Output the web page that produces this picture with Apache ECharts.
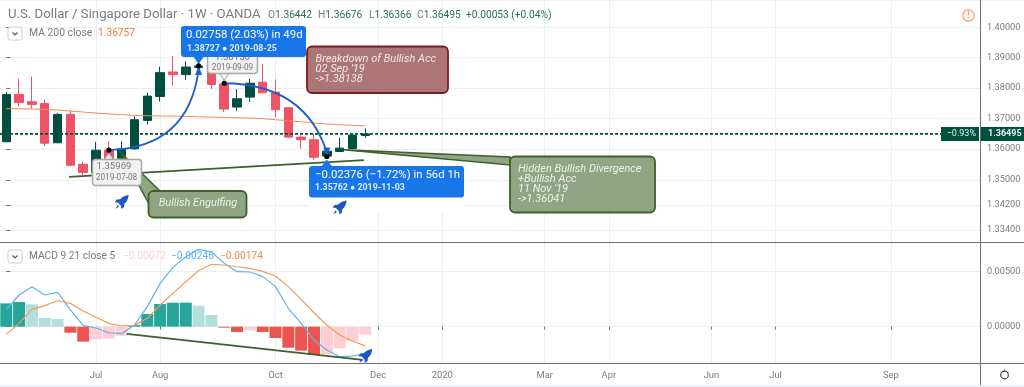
<!DOCTYPE html>
<html><head><meta charset="utf-8">
<script src="https://cdn.jsdelivr.net/npm/echarts@6/dist/echarts.min.js"></script>
<style>html,body{margin:0;padding:0;background:#fff}#c{width:1024px;height:387px}</style>
</head><body><div id="c"></div>
<script>
// [open, close, low, high], one candle per week
const candles = [
[1.36239,1.37787,1.36239,1.37863],[1.37787,1.37525,1.37394,1.38299],[1.37547,1.37460,1.37318,1.38375],
[1.37492,1.36195,1.36097,1.37612],[1.36206,1.37133,1.36206,1.37176],[1.37133,1.35476,1.35443,1.37263],
[1.35508,1.35247,1.35160,1.35585],[1.35247,1.35966,1.35247,1.36228],[1.35966,1.35628,1.35600,1.36260],
[1.35705,1.36010,1.35628,1.36260],[1.36010,1.36958,1.35977,1.37067],[1.36936,1.37732,1.36806,1.37841],
[1.37721,1.38506,1.37558,1.38702],[1.38528,1.38441,1.38081,1.39062],[1.38441,1.38691,1.38266,1.38877],
[1.38680,1.38724,1.38626,1.38844],[1.38724,1.38114,1.37961,1.38844],[1.38135,1.37307,1.37209,1.38244],
[1.37372,1.37645,1.37242,1.37961],[1.37699,1.38157,1.37536,1.38299],[1.38190,1.37841,1.37841,1.38789],
[1.37863,1.37285,1.37045,1.38277],[1.37351,1.36391,1.36370,1.37351],[1.36391,1.36304,1.36010,1.36446],
[1.36304,1.35737,1.35650,1.36500],[1.35775,1.35934,1.35762,1.35950],[1.35923,1.36032,1.35923,1.36370],
[1.36021,1.36457,1.35999,1.36468],[1.36442,1.36495,1.36366,1.36676]];
const ma200 = [1.37318,1.37318,1.37307,1.37296,1.37274,1.37242,1.37209,1.37176,1.37144,1.37122,1.37100,1.37089,1.37078,1.37078,1.37067,1.37056,1.37045,1.37034,1.37024,1.37013,1.36991,1.36958,1.36925,1.36893,1.36849,1.36817,1.36795,1.36773,1.36757];
const macdHist = [.00212,.00224,.00203,.00079,.00070,-.00055,-.00136,-.00115,-.00109,-.00082,.00015,.00115,.00206,.00218,.00218,.00191,.00106,-.00009,-.00048,-.00033,-.00048,-.00103,-.00191,-.00218,-.00258,-.00248,-.00197,-.00130,-.00072];
const macdLine = [.00158,.00288,.00364,.00288,.00312,.00152,.00012,-.00012,-.00055,-.00064,.00015,.00182,.00394,.00539,.00636,.00703,.00679,.00576,.00500,.00497,.00455,.00364,.00167,.00030,-.00121,-.00212,-.00273,-.00267,-.00246];
const signalLine = [-.00070,.00030,.00158,.00191,.00236,.00212,.00142,.00085,.00030,.00006,.00012,.00076,.00197,.00303,.00409,.00509,.00567,.00561,.00545,.00530,.00503,.00461,.00364,.00248,.00127,.00015,-.00076,-.00130,-.00174];
const timeTicks = [7,12,21,29,34,42,47,55,60,69];
const timeLabels = ['Jul','Aug','Oct','Dec','2020','Mar','Apr','Jun','Jul','Sep'];
const priceTicks = [1.40,1.39,1.38,1.37,1.36,1.35,1.342,1.334];
const macdTicks = [0.005,0];
const lastPrice = 1.36495;
const supportLine = [[4.9,1.3510],[27.9,1.35646]];
const macdTrend = [[9.4,-.00066],[27.8,-.00302]];
const rocketsPrice = [[9,1.34293],[26,1.3412]];
const rocketsMacd = [[28,-.00267]];

const FONT = 'Roboto,sans-serif';
const UP='#00503f', DOWN='#ef5366', GRID='#e9f0f5', AXIS='#6f6f6f', TXT='#7b7b7b';
const ROCKET='path://M92 6C70 8 52 18 40 32L20 34L8 50L28 52L46 72L48 92L64 80L66 60C80 48 90 30 92 6ZM24 68L34 78L14 90Z';
const X0=-0.49, X1=75.95;
const idx = a => a.map((v,i)=>[i,v]);

function rect(x,y,w,h,fill,stroke,lw,r,extra){return {type:'rect',shape:{x,y,width:w,height:h,r:r==null?5:r},style:Object.assign({fill,stroke,lineWidth:lw||0},extra||{})};}
function poly(pts,fill,stroke,lw){return {type:'polygon',shape:{points:pts},style:{fill,stroke,lineWidth:lw||0}};}
function txt(x,y,text,font,fill,align){return {type:'text',style:{x,y,text,font:font+' '+FONT,fill,align:align||'left',verticalAlign:'middle'}};}
function dot(p){return {type:'circle',shape:{cx:p[0],cy:p[1],r:2.6},style:{fill:'#000'}};}
function arc(a,c,b){return {type:'bezierCurve',shape:{x1:a[0],y1:a[1],x2:b[0],y2:b[1],cpx1:c[0],cpy1:c[1]},style:{stroke:'#1f5ed0',lineWidth:1.8,fill:null}};}
function head(p,dx,dy){return poly([[p[0],p[1]],[p[0]+dx-3.5,p[1]+dy],[p[0]+dx+3.5,p[1]+dy]],'#1f5ed0');}

function annotations(params,api){
  const c=a=>api.coord(a);
  const a1=c([8,1.35969]), b1=c([15,1.38727]), a2=c([17,1.38156]), b2=c([25,1.35762]);
  const ch=[];
  const gr='#8fa583', grB='#3f5f2c', hid=c([26.3,1.3598]), be=c([9,1.3585]);
  ch.push(poly([[hid[0],hid[1]],[510,157],[510,165]],gr,grB,1.5));
  ch.push(rect(510,156.5,145,56,gr,grB,1.8));
  ['Hidden Bullish Divergence','+Bullish Acc',"11 Nov '19",'->1.36041'].forEach((t,i)=>ch.push(txt(518,169.5+i*10,t,'italic 11px','#eef2ea')));
  ch.push(poly([[be[0],be[1]],[160,191],[148.5,203]],gr,grB,1.5));
  ch.push(rect(148.5,191,98,26.5,gr,grB,1.8));
  ch.push(txt(198,203.5,'Bullish Engulfing','italic 11px','#eef2ea','center'));
  ch.push(rect(307,46.5,141,46.5,'#ad7676','#761f1f',1.8));
  ["Breakdown of Bullish Acc","02 Sep '19","->1.38138"].forEach((t,i)=>ch.push(txt(315.5,59+i*10,t,'italic 11px','#f3e6e6')));
  ch.push(arc(a1,c([14.2,1.36037]),[b1[0],b1[1]+4]));
  ch.push(arc(a2,c([23.3,1.38131]),[b2[0],b2[1]-4]));
  ch.push(head(b1,0,9)); ch.push(head(b2,0,-9));
  ch.push(poly([[a2[0],a2[1]-3],[a2[0]-5,a2[1]-10],[a2[0]+5,a2[1]-10]],'#f1f1f1','#9e9e9e',1));
  ch.push(rect(207.5,50,50,23.5,'#f1f1f1','#a8a8a8',1.5,3));
  ch.push(txt(232.5,58,'1.38156','9.6px','#7b7b7b','center'));
  ch.push(txt(232.5,67.5,'2019-09-09','8.2px','#7b7b7b','center'));
  ch.push(poly([[a1[0],a1[1]+3],[a1[0]-5,a1[1]+10],[a1[0]+5,a1[1]+10]],'#f1f1f1','#9e9e9e',1));
  ch.push(rect(92.5,159.5,49,26,'#f1f1f1','#a8a8a8',1.5,3));
  ch.push(txt(114,166.5,'1.35969','9.6px','#7b7b7b','center'));
  ch.push(txt(116.5,177.5,'2019-07-08','8.2px','#7b7b7b','center'));
  const bl='#1976e8';
  ch.push(rect(181,26,125,31,bl,null,0,3));
  ch.push(poly([[b1[0],b1[1]-2],[b1[0]-5,57],[b1[0]+5,57]],bl));
  ch.push(txt(186,35,'0.02758 (2.03%) in 49d','11.4px','#fff'));
  ch.push(txt(187,48.5,'1.38727 ● 2019-08-25','bold 8.8px','#d9ecff'));
  ch.push(rect(309,197,155,16,'#fff',null,0,0));
  ch.push(rect(309,166,155,31.5,bl,null,0,3));
  ch.push(poly([[b2[0],b2[1]+3],[b2[0]-5,166],[b2[0]+5,166]],bl));
  ch.push(txt(315,175,'\u22120.02376 (\u22121.72%) in 56d 1h','11.4px','#fff'));
  ch.push(txt(315,188,'1.35762 ● 2019-11-03','bold 8.8px','#d9ecff'));
  [a1,b1,a2,b2].forEach(p=>ch.push(dot(p)));
  return {type:'group',children:ch};
}
function priceTags(params,api){
  const y=api.coord([0,lastPrice])[1];
  return {type:'group',children:[
    rect(941,y-7,38,14,UP,null,0,0), txt(976,y,'\u22120.93%','9px','#e6f0ed','right'),
    rect(981,y-7,43,14,UP,null,0,0), txt(988,y,'1.36495','bold 9px','#e6f0ed')
  ]};
}

const xBase = {type:'value',min:X0,max:X1,axisLine:{show:false},
  splitLine:{show:true,lineStyle:{color:GRID,width:1}},
  axisTick:{show:false,customValues:timeTicks},
  axisLabel:{show:false,customValues:timeTicks}};
const yBase = {position:'right',axisLine:{show:false},scale:true,
  splitLine:{show:true,lineStyle:{color:GRID,width:1}},
  axisTick:{show:true,length:4,lineStyle:{color:AXIS}}};

const option = {
  animation:false, backgroundColor:'#fff', textStyle:{fontFamily:FONT},
  grid:[{left:0,top:0,width:980,height:242},{left:0,top:242,width:980,height:121.3}],
  xAxis:[Object.assign({},xBase,{gridIndex:0}),
    Object.assign({},xBase,{gridIndex:1,
      axisTick:{show:true,length:3,lineStyle:{color:AXIS},customValues:timeTicks},
      axisLabel:{show:true,customValues:timeTicks,margin:8,fontSize:9.4,color:TXT,fontFamily:FONT,hideOverlap:false,showMinLabel:true,showMaxLabel:true,
        formatter:v=>timeLabels[timeTicks.indexOf(Math.round(v))]||''}})],
  yAxis:[Object.assign({},yBase,{gridIndex:0,type:'log',logBase:Math.E,min:1.33018,max:1.40929,
      axisTick:{show:true,length:4,lineStyle:{color:AXIS},customValues:priceTicks},
      axisLabel:{customValues:priceTicks,margin:7,fontSize:9.2,color:TXT,fontFamily:FONT,formatter:v=>Number(v).toFixed(5)}}),
    Object.assign({},yBase,{gridIndex:1,type:'value',min:-0.00333,max:0.0077,
      axisTick:{show:true,length:4,lineStyle:{color:AXIS},customValues:macdTicks},
      axisLabel:{customValues:macdTicks,margin:7,fontSize:9.2,color:TXT,fontFamily:FONT,formatter:v=>Number(v).toFixed(5)}})],
  series:[
    {type:'line',name:'last',data:[[X0,lastPrice],[X1,lastPrice]],symbol:'none',z:3,silent:true,
      lineStyle:{color:UP,width:1.6,type:[3,2]}},
    {type:'candlestick',name:'USDSGD',data:candles.map((d,i)=>[i,...d]),encode:{x:0,y:[1,2,3,4]},barWidth:9,z:2,
      itemStyle:{color:UP,color0:DOWN,borderColor:UP,borderColor0:DOWN,borderWidth:1}},
    {type:'line',name:'MA 200',data:idx(ma200),symbol:'none',z:4,lineStyle:{color:'#f58b4e',width:1}},
    {type:'line',name:'support',data:supportLine,symbol:'none',z:4,lineStyle:{color:'#3f5f2c',width:1.8}},
    {type:'scatter',name:'rocketsPrice',data:rocketsPrice,symbol:ROCKET,symbolSize:14,z:9,itemStyle:{color:'#1f55c8',opacity:1}},
    {type:'custom',name:'notes',data:[[0,1.36]],renderItem:annotations,z:8,silent:true},
    {type:'custom',name:'tags',data:[[0,1.36]],renderItem:priceTags,z:9,silent:true},
    {type:'bar',name:'hist',xAxisIndex:1,yAxisIndex:1,barWidth:12,z:2,
      data:macdHist.map((v,i)=>{const p=i?macdHist[i-1]:-1,rising=v>=p;
        return {value:[i,v],itemStyle:{color:v>=0?(rising?'#26a69a':'#b2dfdb'):(rising?'#ffcdd2':'#ef5350')}};})},
    {type:'line',name:'macd',xAxisIndex:1,yAxisIndex:1,data:idx(macdLine),symbol:'none',z:3,lineStyle:{color:'#5ab3f2',width:1.2}},
    {type:'line',name:'signal',xAxisIndex:1,yAxisIndex:1,data:idx(signalLine),symbol:'none',z:3,lineStyle:{color:'#f79a55',width:1.2}},
    {type:'line',name:'macdTrend',xAxisIndex:1,yAxisIndex:1,data:macdTrend,symbol:'none',z:4,lineStyle:{color:'#3f5f2c',width:1.8}},
    {type:'scatter',name:'rocketsMacd',xAxisIndex:1,yAxisIndex:1,data:rocketsMacd,symbol:ROCKET,symbolSize:14,z:5,itemStyle:{color:'#1f55c8',opacity:1}}
  ],
  graphic:[
    {type:'rect',shape:{x:0,y:0,width:1024,height:1},style:{fill:'#eef1f8'},z:20,silent:true},
    {type:'rect',shape:{x:0,y:385,width:1024,height:2},style:{fill:'#eef1f8'},z:20,silent:true},
    {type:'line',shape:{x1:0,y1:242.5,x2:1024,y2:242.5},style:{stroke:AXIS,lineWidth:1},z:20,silent:true},
    {type:'line',shape:{x1:0,y1:363.5,x2:1024,y2:363.5},style:{stroke:AXIS,lineWidth:1},z:20,silent:true},
    {type:'line',shape:{x1:980.5,y1:0,x2:980.5,y2:385},style:{stroke:AXIS,lineWidth:1},z:20,silent:true},
    {type:'text',x:8,y:14.5,z:20,silent:true,style:{text:'U.S. Dollar / Singapore Dollar \u00b7 1W \u00b7 OANDA',font:'13.2px '+FONT,fill:TXT,verticalAlign:'middle'}},
    ...[['O','1.36442',268],['H','1.36676',318],['L','1.36366',369],['C','1.36495',417]].map(t=>(
      {type:'text',x:t[2],y:15,z:20,silent:true,style:{text:'{a|'+t[0]+'}{b|'+t[1]+'}',verticalAlign:'middle',
        rich:{a:{fill:'#75807c',font:'10.2px '+FONT},b:{fill:'#2a6f60',font:'10.2px '+FONT}}}})),
    {type:'text',x:466,y:15,z:20,silent:true,style:{text:'+0.00053 (+0.04%)',font:'10.2px '+FONT,fill:'#2a6f60',verticalAlign:'middle'}},
    {type:'rect',shape:{x:8,y:27,width:14,height:13,r:2},style:{fill:'#fff',stroke:'#c9ced6',lineWidth:1},z:20,silent:true},
    {type:'polyline',shape:{points:[[12.5,32.5],[15,35],[17.5,32.5]]},style:{stroke:'#555',lineWidth:1.2,fill:null},z:20,silent:true},
    {type:'text',x:29,y:33.5,z:20,silent:true,style:{text:'MA 200 close',font:'10.4px '+FONT,fill:TXT,verticalAlign:'middle'}},
    {type:'text',x:98,y:33.5,z:20,silent:true,style:{text:'1.36757',font:'10.2px '+FONT,fill:'#f07f3c',verticalAlign:'middle'}},
    {type:'rect',shape:{x:8,y:250,width:14,height:13,r:2},style:{fill:'#fff',stroke:'#c9ced6',lineWidth:1},z:20,silent:true},
    {type:'polyline',shape:{points:[[12.5,255.5],[15,258],[17.5,255.5]]},style:{stroke:'#555',lineWidth:1.2,fill:null},z:20,silent:true},
    {type:'text',x:29,y:256,z:20,silent:true,style:{text:'MACD 9 21 close 5',font:'10.2px '+FONT,fill:TXT,verticalAlign:'middle'}},
    {type:'text',x:123,y:256,z:20,silent:true,style:{text:'\u22120.00072',font:'10.2px '+FONT,fill:'#ffcdd2',verticalAlign:'middle'}},
    {type:'text',x:171,y:256,z:20,silent:true,style:{text:'\u22120.00246',font:'10.2px '+FONT,fill:'#5ab3f2',verticalAlign:'middle'}},
    {type:'text',x:220,y:256,z:20,silent:true,style:{text:'\u22120.00174',font:'10.2px '+FONT,fill:'#f58b4e',verticalAlign:'middle'}},
    {type:'circle',shape:{cx:968.5,cy:15.5,r:5.7},style:{fill:'#fff',stroke:'#ff9f63',lineWidth:1.2},z:20,silent:true},
    {type:'text',x:968.5,y:15.5,z:21,silent:true,style:{text:'!',font:'bold 9px '+FONT,fill:'#ff9f63',align:'center',verticalAlign:'middle'}},
    {type:'circle',shape:{cx:1004.5,cy:375,r:3.8},style:{fill:'#fff',stroke:'#444',lineWidth:1.2},z:20,silent:true},
    {type:'text',x:1004.5,y:375,z:19,silent:true,style:{text:'\u2736',font:'14px "DejaVu Sans"',fill:'#444',align:'center',verticalAlign:'middle'}}
  ]
};
const chart = echarts.init(document.getElementById('c'),null,{renderer:'canvas'});
chart.setOption(option);
</script></body></html>
